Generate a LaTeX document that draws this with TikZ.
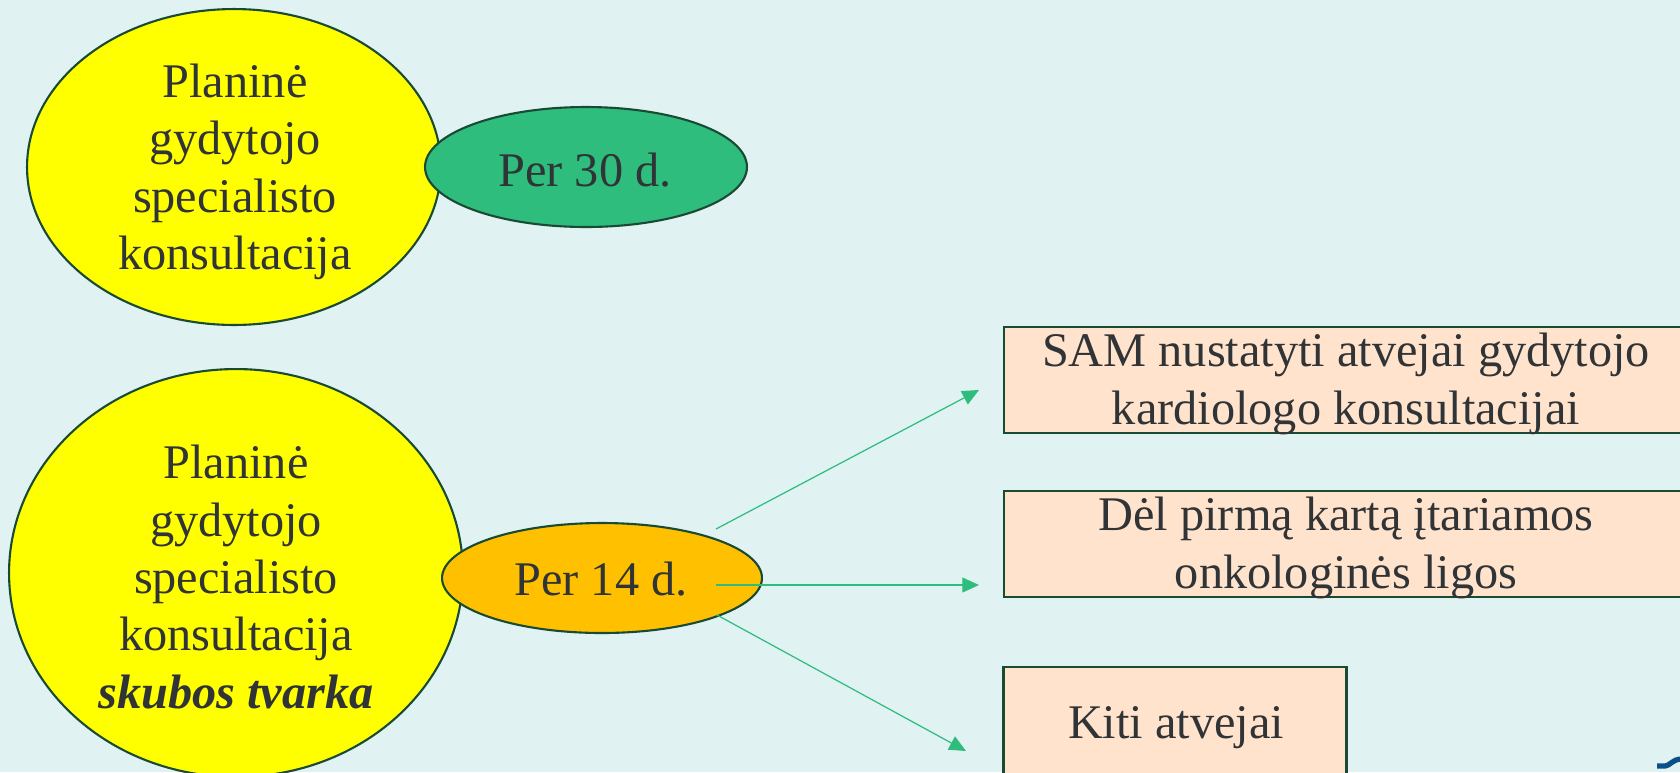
\documentclass[tikz,border=0pt]{standalone}
\usepackage{fontspec}
\setmainfont{Liberation Serif}
\usetikzlibrary{shapes.geometric,arrows.meta}
\definecolor{bgcyan}{RGB}{225,242,242}
\definecolor{textgray}{RGB}{48,52,54}
\definecolor{edgegreen}{RGB}{24,74,52}
\definecolor{planyellow}{RGB}{255,255,0}
\definecolor{ovalgreen}{RGB}{46,189,125}
\definecolor{ovalorange}{RGB}{255,192,0}
\definecolor{boxpeach}{RGB}{255,227,204}
\definecolor{arrowgreen}{RGB}{46,189,125}
\definecolor{logoblue}{RGB}{12,78,136}

\begin{document}
\begin{tikzpicture}[x=0.02cm, y=-0.02cm,
    txt/.style={align=center, inner sep=0pt, text=textgray, font=\fontsize{27.5}{32.7}\selectfont},
    oval/.style={ellipse, draw=edgegreen, line width=1.2pt, inner sep=0pt},
    box/.style={rectangle, draw=edgegreen, line width=1.6pt, fill=boxpeach, inner sep=0pt},
    link/.style={draw=arrowgreen, line width=0.7pt, -{Triangle[length=9.5pt,width=8.5pt]}}]
    % background
    \fill[bgcyan] (0,0) rectangle (1680,772);
    \clip (0,0) rectangle (1680,772);
    % planine konsultacija
    \node[oval, fill=planyellow, minimum width=8.28cm, minimum height=6.32cm] (plan) at (234,167) {};
    \node[txt] (plantxt) at (235,172) {Planinė\\gydytojo\\specialisto\\konsultacija};
    \node[oval, fill=ovalgreen, minimum width=6.44cm, minimum height=2.4cm] (per30) at (586,167) {};
    \node[txt] (per30txt) at (585,170) {Per 30 d.};
    % skubos tvarka
    \node[oval, fill=planyellow, minimum width=9.08cm, minimum height=8.16cm] (urgent) at (236,573) {};
    \node[txt] (urgenttxt) at (236,577) {Planinė\\gydytojo\\specialisto\\konsultacija\\\textbf{\textit{skubos tvarka}}};
    \node[oval, fill=ovalorange, minimum width=6.4cm, minimum height=2.2cm] (per14) at (602,578) {};
    \node[txt] (per14txt) at (601,579) {Per 14 d.};
    % atvejai
    \node[box, minimum width=13.72cm, minimum height=2.12cm] (sam) at (1347,380) {};
    \node[txt] (samtxt) at (1346,384) {SAM nustatyti atvejai gydytojo\\kardiologo konsultacijai};
    \node[box, minimum width=13.72cm, minimum height=2.12cm] (onko) at (1347,544) {};
    \node[txt] (onkotxt) at (1346,548) {Dėl pirmą kartą įtariamos\\onkologinės ligos};
    \node[box, minimum width=6.86cm, minimum height=2.36cm] (kiti) at (1175,726) {};
    \node[txt] (kititxt) at (1176,728) {Kiti atvejai};
    % arrows
    \coordinate (s1) at (716,529);
    \coordinate (s2) at (716,585);
    \coordinate (s3) at (717,615);
    \coordinate (t1) at (979,390);
    \coordinate (t2) at (979,585);
    \coordinate (t3) at (966,751);
    \draw[link] (s1) -- (t1);
    \draw[link] (s2) -- (t2);
    \draw[link] (s3) -- (t3);
    % logo fragment
    \draw[logoblue, line width=3pt] (1657,766) -- (1665,766) .. controls (1670,766) and (1672,759) .. (1682,759);
\end{tikzpicture}
\end{document}
